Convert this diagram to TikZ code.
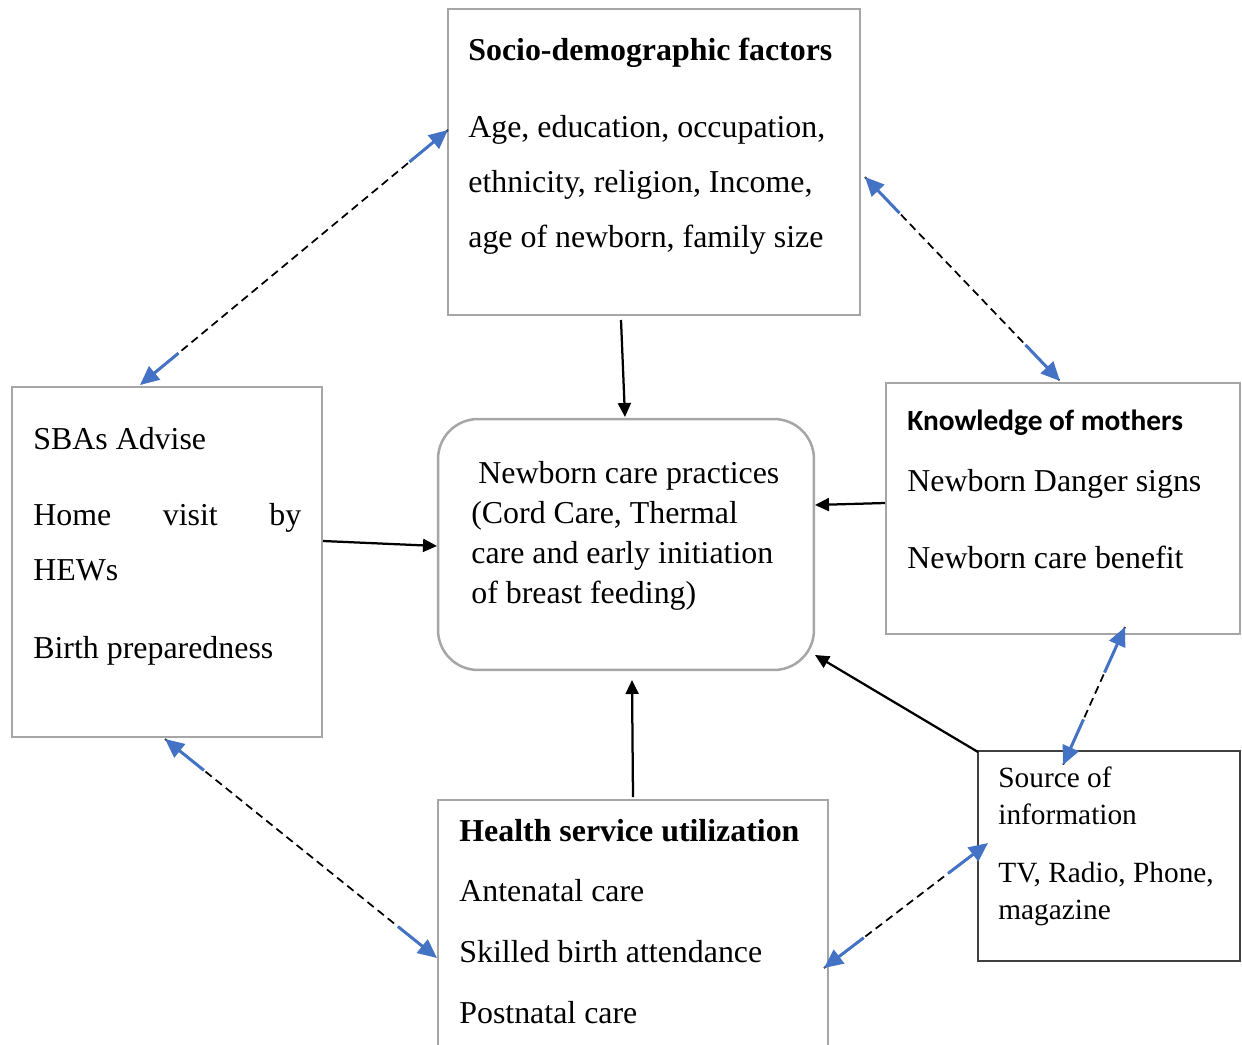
\documentclass[tikz,border=0pt]{standalone}
\usepackage{fontspec}
\setmainfont{Liberation Serif}
\newfontfamily\calib{Carlito}
\usetikzlibrary{arrows.meta,calc}
\definecolor{boxgray}{HTML}{A6A6A6}
\definecolor{arrblue}{HTML}{4472C4}
\definecolor{darkline}{HTML}{404040}
\begin{document}
\begin{tikzpicture}[x=0.02cm,y=-0.02cm,
  box/.style={draw=boxgray, line width=0.05cm, inner sep=0pt},
  txt/.style={anchor=base west, inner sep=0pt, font=\fontsize{18.15}{22}\selectfont},
  stxt/.style={anchor=base west, inner sep=0pt, font=\fontsize{16.7}{20}\selectfont},
  ktxt/.style={anchor=base west, inner sep=0pt, font=\calib\bfseries\fontsize{16.7}{20}\selectfont},
  solidarr/.style={-{Triangle[length=0.28cm,width=0.26cm]}, line width=0.045cm, black},
  dashline/.style={dash pattern=on 0.16cm off 0.1cm, line width=0.035cm, black},
  bluearr/.style={-{Triangle[length=0.38cm,width=0.34cm]}, arrblue, line width=0.06cm}]
\useasboundingbox (0,0) rectangle (1242,1045);
% boxes
\node[box, minimum width=8.24cm, minimum height=6.12cm] (socio) at (654,162) {};
\node[box, rounded corners=0.8cm, minimum width=7.52cm, minimum height=5.02cm] (cent) at (626,544.5) {};
\node[box, minimum width=6.2cm, minimum height=7cm] (sba) at (167,562) {};
\node[box, minimum width=7.08cm, minimum height=5.02cm] (know) at (1063,508.5) {};
\node[draw=darkline, line width=0.03cm, inner sep=0pt, minimum width=5.24cm, minimum height=4.2cm] (src) at (1109,856) {};
\draw[draw=boxgray, line width=0.05cm] (438,1050) -- (438,800) -- (828,800) -- (828,1050);
% texts
\node[txt, font=\bfseries\fontsize{18.15}{22}\selectfont] (s0) at (468,60) {Socio-demographic factors};
\node[txt] (s1) at (468,137) {Age, education, occupation,};
\node[txt] (s2) at (468,192) {ethnicity, religion, Income,};
\node[txt] (s3) at (468,247) {age of newborn, family size};
\node[txt] (c1) at (478,483) {Newborn care practices};
\node[txt] (c2) at (471,523) {(Cord Care, Thermal};
\node[txt] (c3) at (471,563) {care and early initiation};
\node[txt] (c4) at (471,603) {of breast feeding)};
\node[txt] (b1) at (33,449) {SBAs Advise};
\node[txt] (b2) at (33,525) {\makebox[5.36cm][s]{Home\hfill visit\hfill by}};
\node[txt] (b3) at (33,580) {HEWs};
\node[txt] (b4) at (33,658) {Birth preparedness};
\node[ktxt] (k0) at (907,430) {Knowledge of mothers};
\node[txt] (k1) at (907,491) {Newborn Danger signs};
\node[txt] (k2) at (907,568) {Newborn care benefit};
\node[txt, font=\bfseries\fontsize{18.15}{22}\selectfont] (h0) at (459,841) {Health service utilization};
\node[txt] (h1) at (459,901) {Antenatal care};
\node[txt] (h2) at (459,962) {Skilled birth attendance};
\node[txt] (h3) at (459,1023) {Postnatal care};
\node[stxt] (r1) at (998,787) {Source of};
\node[stxt] (r2) at (998,824) {information};
\node[stxt] (r3) at (998,882) {TV, Radio, Phone,};
\node[stxt] (r4) at (998,919) {magazine};
% connector end points
\coordinate (socioB) at (621,320);
\coordinate (centT) at (625,417);
\coordinate (sbaR) at (323,541);
\coordinate (centL) at (437,546);
\coordinate (knowL) at (885,503);
\coordinate (centR) at (815,505);
\coordinate (healthT) at (633,797);
\coordinate (centB) at (632,680);
\coordinate (srcTL) at (978,752);
\coordinate (centBR) at (815,655);
\coordinate (socioL) at (448,130);
\coordinate (sbaT) at (140,385);
\coordinate (socioR) at (865,177);
\coordinate (knowT) at (1060,381);
\coordinate (sbaB) at (165,739);
\coordinate (healthL) at (437,958);
\coordinate (healthR) at (824,968);
\coordinate (srcL) at (988,843);
\coordinate (knowB) at (1125,627);
\coordinate (srcT) at (1063,765);
% solid arrows
\draw[solidarr] (socioB) -- (centT);
\draw[solidarr] (sbaR) -- (centL);
\draw[solidarr] (knowL) -- (centR);
\draw[solidarr] (healthT) -- (centB);
\draw[solidarr] (srcTL) -- (centBR);
% dashed double arrows
\foreach \a/\b in {socioL/sbaT, socioR/knowT, sbaB/healthL, healthR/srcL, knowB/srcT}{
  \draw[dashline] (\a) -- (\b);
  \draw[bluearr] ($(\a)!1cm!(\b)$) -- (\a);
  \draw[bluearr] ($(\b)!1cm!(\a)$) -- (\b);
}
\end{tikzpicture}
\end{document}
